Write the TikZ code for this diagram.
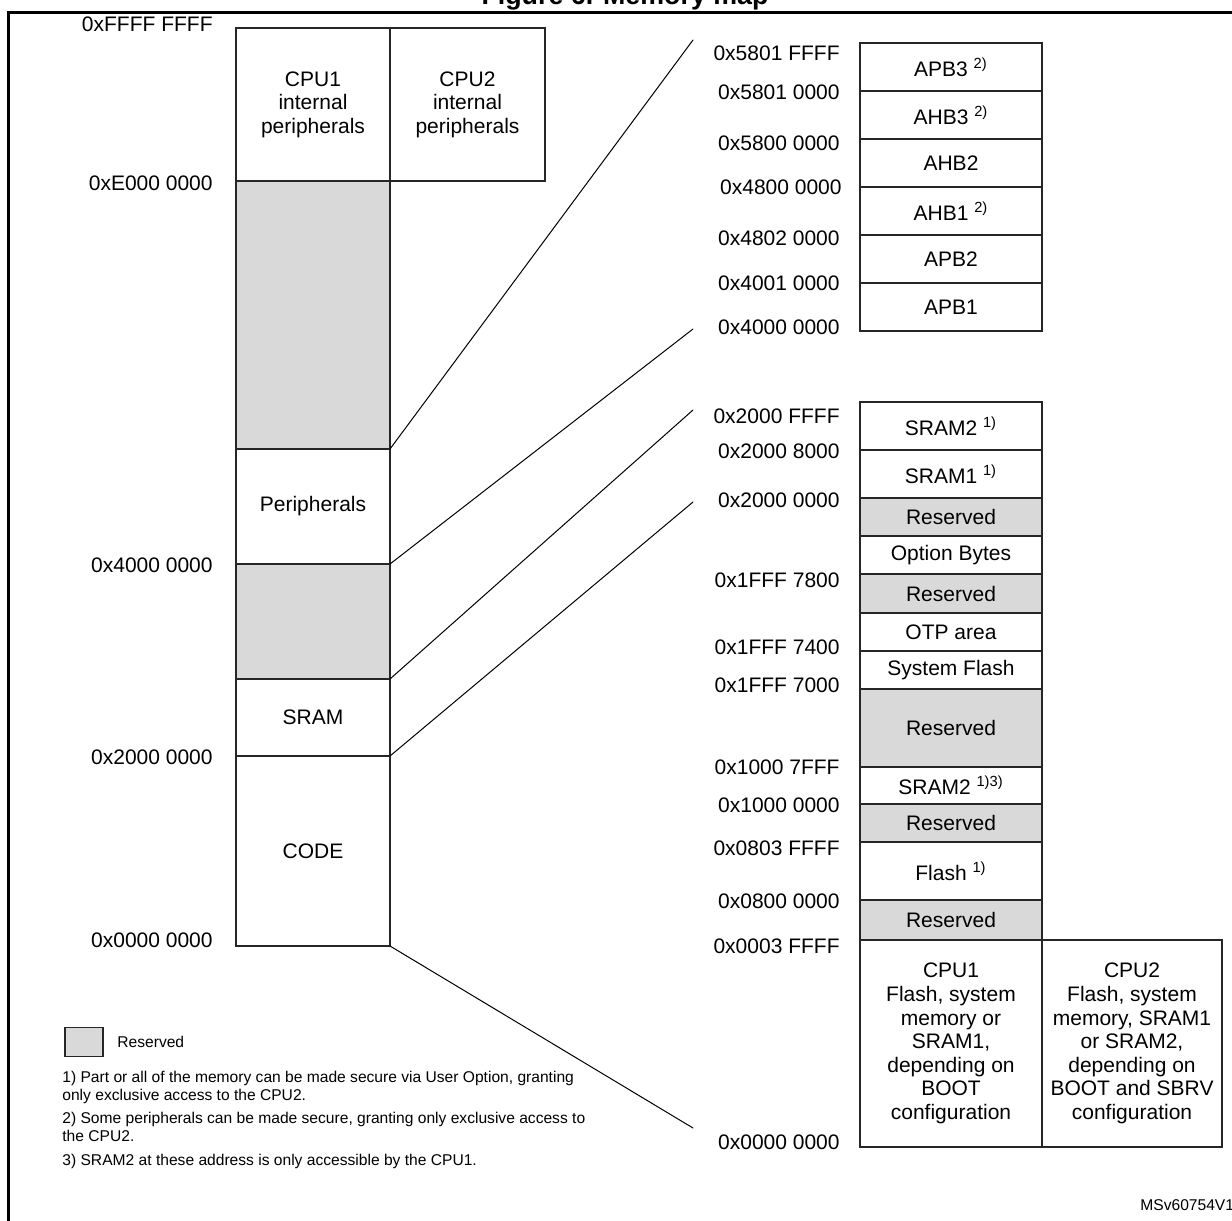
\documentclass[tikz,border=0pt]{standalone}
\usepackage{fontspec}
\setmainfont{Liberation Sans}
\usetikzlibrary{positioning}

\begin{document}
\begin{tikzpicture}
		[x=0.5pt,y=-0.5pt,line cap=round,
		%Styles
		frame line/.style={line width=1.5pt},
		region/.style={draw=black!85,line width=0.6pt,fill=white,inner sep=0pt,outer sep=0pt,align=center,font=\fontsize{10.5}{11.8}\selectfont},
		left region/.style={region,minimum width=77pt},
		right region/.style={region,minimum width=91pt},
		reserved/.style={fill=reservedgray},
		address/.style={anchor=east,inner sep=0pt,font=\fontsize{10.5}{12}\selectfont},
		zoom line/.style={draw=black,line width=0.5pt},
		note/.style={anchor=north west,inner sep=0pt,align=left,font=\fontsize{7.8}{9}\selectfont}
		]
		
		%Colors
		\colorlet{reservedgray}{black!15}	%reserved areas
		
		\useasboundingbox (0,0) rectangle (1232,1221);
		
		%Title and frame
		\node[anchor=base,inner sep=0pt,font=\bfseries\fontsize{13.4}{16}\selectfont] (title) at (625,4) {Figure 6. Memory map};
		\draw[frame line] (8,12) rectangle (1260,1250);
		
		%Full address space
		\node[left region,minimum height=76.5pt] (cpuonep) at (313,104.5) {CPU1\\internal\\peripherals};
		\node[left region,minimum width=77.5pt,minimum height=76.5pt,right=0pt of cpuonep] (cputwop) {CPU2\\internal\\peripherals};
		\node[left region,reserved,minimum height=134pt,below=0pt of cpuonep] (resa) {};
		\node[left region,minimum height=57.5pt,below=0pt of resa] (periph) {Peripherals};
		\node[left region,reserved,minimum height=57.5pt,below=0pt of periph] (resb) {};
		\node[left region,minimum height=38.5pt,below=0pt of resb] (sram) {SRAM};
		\node[left region,minimum height=95pt,below=0pt of sram] (code) {CODE};
		
		\node[address] (atop) at (213,24) {0xFFFF FFFF};
		\node[address] (ae000) at (213,183) {0xE000 0000};
		\node[address] (a4000) at (213,565) {0x4000 0000};
		\node[address] (a2000) at (213,757) {0x2000 0000};
		\node[address] (a0000) at (213,940) {0x0000 0000};
		
		%Peripheral buses
		\node[right region,minimum height=24pt] (apbthree) at (951,67) {APB3 \textsuperscript{2)}};
		\node[right region,minimum height=24pt,below=0pt of apbthree] (ahbthree) {AHB3 \textsuperscript{2)}};
		\node[right region,minimum height=24pt,below=0pt of ahbthree] (ahbtwo) {AHB2};
		\node[right region,minimum height=24pt,below=0pt of ahbtwo] (ahbone) {AHB1 \textsuperscript{2)}};
		\node[right region,minimum height=24pt,below=0pt of ahbone] (apbtwo) {APB2};
		\node[right region,minimum height=24pt,below=0pt of apbtwo] (apbone) {APB1};
		
		\node[address] (p5801f) at (840,53) {0x5801 FFFF};
		\node[address] (p58010) at (840,92) {0x5801 0000};
		\node[address] (p58000) at (840,143) {0x5800 0000};
		\node[address] (p48000) at (842,187) {0x4800 0000};
		\node[address] (p48020) at (840,238) {0x4802 0000};
		\node[address] (p40010) at (840,283) {0x4001 0000};
		\node[address] (p40000) at (840,327) {0x4000 0000};
		
		%SRAM and code areas
		\node[right region,minimum height=24pt] (sramtwo) at (951,426) {SRAM2 \textsuperscript{1)}};
		\node[right region,minimum height=24pt,below=0pt of sramtwo] (sramone) {SRAM1 \textsuperscript{1)}};
		\node[right region,reserved,minimum height=19pt,below=0pt of sramone] (resc) {Reserved};
		\node[right region,minimum height=19pt,below=0pt of resc] (optbytes) {Option Bytes};
		\node[right region,reserved,minimum height=19.5pt,below=0pt of optbytes] (resd) {Reserved};
		\node[right region,minimum height=19pt,below=0pt of resd] (otp) {OTP area};
		\node[right region,minimum height=19pt,below=0pt of otp] (sysflash) {System Flash};
		\node[right region,reserved,minimum height=39pt,below=0pt of sysflash] (rese) {Reserved};
		\node[right region,minimum height=18.5pt,below=0pt of rese] (sramtwob) {SRAM2 \textsuperscript{1)3)}};
		\node[right region,reserved,minimum height=19pt,below=0pt of sramtwob] (resf) {Reserved};
		\node[right region,minimum height=29pt,below=0pt of resf] (flash) {Flash \textsuperscript{1)}};
		\node[right region,reserved,minimum height=20pt,below=0pt of flash] (resg) {Reserved};
		\node[right region,minimum height=103.5pt,below=0pt of resg] (cpuoneboot) {CPU1\\Flash, system\\memory or\\SRAM1,\\depending on\\BOOT\\configuration};
		\node[right region,minimum width=90pt,minimum height=103.5pt,right=0pt of cpuoneboot] (cputwoboot) {CPU2\\Flash, system\\memory, SRAM1\\or SRAM2,\\depending on\\BOOT and SBRV\\configuration};
		
		\node[address] (m2000f) at (840,416) {0x2000 FFFF};
		\node[address] (m20008) at (840,451) {0x2000 8000};
		\node[address] (m20000) at (840,500) {0x2000 0000};
		\node[address] (m1fff78) at (840,580) {0x1FFF 7800};
		\node[address] (m1fff74) at (840,647) {0x1FFF 7400};
		\node[address] (m1fff70) at (840,685) {0x1FFF 7000};
		\node[address] (m10007) at (840,767) {0x1000 7FFF};
		\node[address] (m10000) at (840,805) {0x1000 0000};
		\node[address] (m0803) at (840,848) {0x0803 FFFF};
		\node[address] (m0800) at (840,901) {0x0800 0000};
		\node[address] (m0003) at (840,946) {0x0003 FFFF};
		\node[address] (m0000) at (840,1142) {0x0000 0000};
		
		%Zoom lines
		\coordinate (zpa) at (693,40);
		\coordinate (zpb) at (693,329);
		\coordinate (zpc) at (693,410);
		\coordinate (zpd) at (693,502);
		\coordinate (zpe) at (693,1128);
		
		\path[zoom line]
			(periph.north east)	edge	(zpa)
			(periph.south east)	edge	(zpb)
			(sram.north east)	edge	(zpc)
			(sram.south east)	edge	(zpd)
			(code.south east)	edge	(zpe);
		
		%Legend and notes
		\node[region,reserved,minimum width=19pt,minimum height=14.5pt] (legbox) at (84,1042) {};
		\node[note,anchor=west,right=7pt of legbox] (legtext) {Reserved};
		\node[note] (noteone) at (62,1071) {1) Part or all of the memory can be made secure via User Option, granting\\only exclusive access to the CPU2.};
		\node[note] (notetwo) at (62,1112) {2) Some peripherals can be made secure, granting only exclusive access to\\the CPU2.};
		\node[note] (notethree) at (62,1154) {3) SRAM2 at these address is only accessible by the CPU1.};
		\node[note,anchor=west] (ref) at (1140,1205) {MSv60754V1};
	\end{tikzpicture}
\end{document}
